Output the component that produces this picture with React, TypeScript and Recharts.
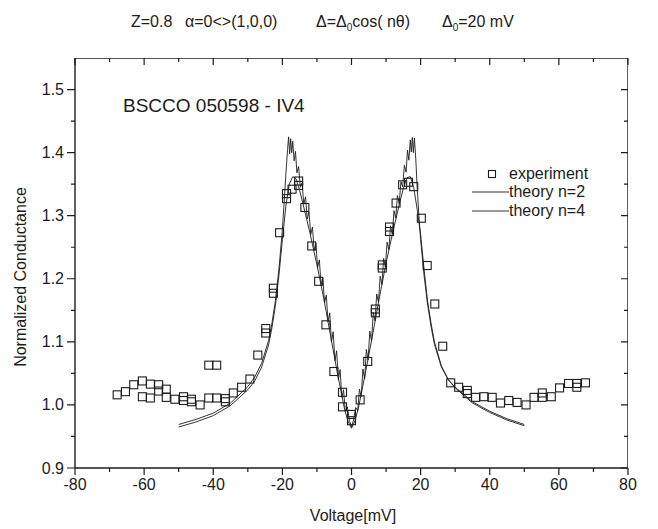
import { ScatterChart, Scatter, XAxis, YAxis } from "recharts";

// experiment (both sweeps)
const expVoltage = [
  -67.8, -65.4, -63.0, -60.5, -60.5, -58.2, -58.2, -55.8, -55.8, -53.6, -53.6, -51.1, -48.6, -48.6,
  -46.3, -46.3, -43.8, -41.3, -41.3, -39.0, -39.0, -36.5, -36.5, -34.2, -31.8, -29.4, -27.1, -24.8,
  -24.8, -22.6, -22.6, -20.8, -18.8, -18.8, -17.2, -15.3, -15.3, -13.5, -11.5, -9.5, -7.4, -5.1,
  -2.6, -2.6, 0.0, 0.0, 2.5, 4.7, 6.9, 6.9, 8.9, 8.9, 11.0, 11.0, 12.9, 14.8, 16.5, 18.0, 20.2,
  21.9, 24.1, 26.4, 28.7, 31.0, 33.5, 33.5, 35.9, 38.3, 40.7, 43.1, 45.5, 47.9, 50.5, 52.8, 55.2,
  55.2, 57.8, 60.2, 62.8, 65.2, 65.2, 67.7,
];
const expConductance = [
  1.016, 1.021, 1.032, 1.038, 1.013, 1.033, 1.011, 1.032, 1.022, 1.025, 1.012, 1.009, 1.013, 1.007,
  1.005, 1.009, 1.0, 1.011, 1.063, 1.011, 1.063, 1.005, 1.01, 1.019, 1.028, 1.041, 1.079, 1.114,
  1.121, 1.177, 1.185, 1.273, 1.327, 1.335, 1.342, 1.348, 1.355, 1.313, 1.252, 1.196, 1.127, 1.053,
  1.02, 0.997, 0.985, 0.975, 1.008, 1.069, 1.146, 1.152, 1.217, 1.222, 1.275, 1.282, 1.32, 1.349,
  1.353, 1.346, 1.296, 1.221, 1.16, 1.093, 1.035, 1.028, 1.023, 1.018, 1.012, 1.013, 1.012, 1.003,
  1.007, 1.004, 1.0, 1.012, 1.019, 1.012, 1.013, 1.027, 1.034, 1.034, 1.028, 1.035,
];

// theory n=2
const n2Voltage = [
  -50, -45, -40, -35, -30, -28, -26, -24, -23, -22, -21, -20, -19.5, -19, -18.5, -18.2, -17.9, -17.6,
  -17.3, -17, -16.6, -16.2, -15.8, -15.3, -14.8, -14.3, -13.8, -13.3, -12.8, -12.3, -11.8, -11.3,
  -10.8, -10.3, -9.8, -9.3, -8.8, -8.3, -7.8, -7.3, -6.8, -6.3, -5.8, -5.3, -4.8, -4.3, -3.8, -3.3,
  -2.8, -2.3, -1.8, -1.2, -0.6, 0, 0.6, 1.2, 1.8, 2.3, 2.8, 3.3, 3.8, 4.3, 4.8, 5.3, 5.8, 6.3, 6.8,
  7.3, 7.8, 8.3, 8.8, 9.3, 9.8, 10.3, 10.8, 11.3, 11.8, 12.3, 12.8, 13.3, 13.8, 14.3, 14.8, 15.3,
  15.8, 16.2, 16.6, 17, 17.3, 17.6, 17.9, 18.2, 18.6, 19, 19.5, 20, 21, 22, 23, 24, 26, 28, 30, 35,
  40, 45, 50,
];
const n2Conductance = [
  0.969, 0.977, 0.987, 1.003, 1.029, 1.044, 1.066, 1.102, 1.13, 1.166, 1.215, 1.278, 1.32, 1.365,
  1.405, 1.425, 1.398, 1.422, 1.4, 1.418, 1.387, 1.402, 1.368, 1.378, 1.345, 1.352, 1.318, 1.33,
  1.295, 1.306, 1.27, 1.282, 1.245, 1.256, 1.218, 1.23, 1.19, 1.202, 1.162, 1.174, 1.132, 1.146,
  1.1, 1.116, 1.07, 1.086, 1.04, 1.056, 1.012, 1.024, 0.99, 0.997, 0.975, 0.965, 0.976, 0.996, 0.991,
  1.025, 1.013, 1.057, 1.041, 1.088, 1.071, 1.117, 1.101, 1.147, 1.133, 1.176, 1.163, 1.204, 1.191,
  1.232, 1.219, 1.258, 1.246, 1.284, 1.271, 1.308, 1.296, 1.332, 1.319, 1.354, 1.346, 1.38, 1.369,
  1.404, 1.388, 1.42, 1.401, 1.424, 1.4, 1.423, 1.39, 1.345, 1.3, 1.262, 1.205, 1.16, 1.125, 1.096,
  1.06, 1.04, 1.028, 1.005, 0.99, 0.978, 0.969,
];

// theory n=4
const n4Voltage = [
  -50, -45, -40, -35, -30, -28, -26, -24, -23, -22, -21, -20, -19, -18, -17, -16, -15, -14, -12, -10,
  -8, -6, -4, -2, -1, 0, 1, 2, 4, 6, 8, 10, 12, 14, 15, 16, 17, 18, 19, 20, 21, 22, 23, 24, 26, 28,
  30, 35, 40, 45, 50,
];
const n4Conductance = [
  0.965, 0.973, 0.983, 0.999, 1.024, 1.038, 1.06, 1.095, 1.123, 1.158, 1.205, 1.262, 1.315, 1.35,
  1.362, 1.358, 1.34, 1.318, 1.272, 1.222, 1.168, 1.108, 1.048, 0.993, 0.974, 0.963, 0.975, 0.995,
  1.05, 1.108, 1.168, 1.225, 1.275, 1.322, 1.343, 1.36, 1.362, 1.345, 1.31, 1.27, 1.215, 1.165,
  1.13, 1.1, 1.062, 1.04, 1.027, 1.003, 0.988, 0.976, 0.967,
];

const xTicks = [-80, -70, -60, -50, -40, -30, -20, -10, 0, 10, 20, 30, 40, 50, 60, 70, 80];
const yTicks = [0.9, 0.95, 1.0, 1.05, 1.1, 1.15, 1.2, 1.25, 1.3, 1.35, 1.4, 1.45, 1.5];
const X_MIN = -80;
const X_MAX = 80;
const Y_MIN = 0.9;
const Y_MAX = 1.55;

// top-left -> top-right -> bottom-right corners of the axis box
const frameCorners = [
  { v: X_MIN, g: Y_MAX },
  { v: X_MAX, g: Y_MAX },
  { v: X_MAX, g: Y_MIN },
];

const W = 658;
const H = 529;
const MARGIN = { top: 58, right: 30, bottom: 0, left: 0 };
const Y_AXIS_W = 75;
const X_AXIS_H = 61;
const PLOT_W = 553;
const PLOT_H = 410;

const INK = "#1c1c1c";
const FONT = "'Liberation Sans', Arial, sans-serif";

const pairs = (vs: number[], gs: number[]) => vs.map((v, i) => ({ v, g: gs[i] }));
const experiment = pairs(expVoltage, expConductance);
const theoryN2 = pairs(n2Voltage, n2Conductance);
const theoryN4 = pairs(n4Voltage, n4Conductance);

const isMajorX = (v: number) => Math.round(v) % 20 === 0;
const isMajorY = (v: number) => Math.round(v * 100) % 10 === 0;

// bottom tick also draws the mirrored (inward) tick on the top frame
function BottomTick(props: any) {
  const x = Number(props.x);
  const y = Number(props.y);
  const value = props.payload.value;
  const major = isMajorX(value);
  const len = major ? 7 : 4;
  const top = y - PLOT_H;
  return (
    <g>
      <path d={`M${x},${y}V${y + len}M${x},${top}V${top + len}`} stroke={INK} strokeWidth={1.2} fill="none" />
      {major && (
        <text x={x} y={y + 22} textAnchor="middle" fontSize={16} fontFamily={FONT} fill={INK}>
          {value}
        </text>
      )}
    </g>
  );
}

// left tick also draws the mirrored (inward) tick on the right frame
function LeftTick(props: any) {
  const x = Number(props.x);
  const y = Number(props.y);
  const value = props.payload.value;
  const major = isMajorY(value);
  const right = x + PLOT_W;
  return (
    <g>
      <path
        d={`M${x},${y}H${x - (major ? 8 : 4)}M${right},${y}H${right - (major ? 7 : 4)}`}
        stroke={INK}
        strokeWidth={1.2}
        fill="none"
      />
      {major && (
        <text x={x - 11} y={y + 5.5} textAnchor="end" fontSize={16} fontFamily={FONT} fill={INK}>
          {value.toFixed(1)}
        </text>
      )}
    </g>
  );
}

const OpenSquare = (p: any) => (
  <rect x={p.cx - 4} y={p.cy - 4} width={8} height={8} fill="none" stroke={INK} strokeWidth={1.1} />
);
const NoMark = () => <g />;

export default function App() {
  const axisLine = { stroke: INK, strokeWidth: 1.4 };
  return (
    <div style={{ position: "absolute", left: 0, top: 0, width: W, height: H, background: "#fff" }}>
      <ScatterChart width={W} height={H} margin={MARGIN}>
        <XAxis
          type="number"
          dataKey="v"
          domain={[X_MIN, X_MAX]}
          ticks={xTicks}
          height={X_AXIS_H}
          axisLine={axisLine}
          tickLine={false}
          tickSize={0}
          tickMargin={0}
          tick={<BottomTick />}
          allowDataOverflow
        />
        <YAxis
          type="number"
          dataKey="g"
          domain={[Y_MIN, Y_MAX]}
          ticks={yTicks}
          width={Y_AXIS_W}
          axisLine={axisLine}
          tickLine={false}
          tickSize={0}
          tickMargin={0}
          tick={<LeftTick />}
          allowDataOverflow
        />
        {/* top and right sides of the axis box, through the chart's own scales */}
        <Scatter
          data={frameCorners}
          line={{ stroke: INK, strokeWidth: 1.4 }}
          lineType="joint"
          shape={NoMark}
          isAnimationActive={false}
        />
        <Scatter
          name="theory n=4"
          data={theoryN4}
          line={{ stroke: INK, strokeWidth: 0.9 }}
          lineType="joint"
          shape={NoMark}
          isAnimationActive={false}
        />
        <Scatter
          name="theory n=2"
          data={theoryN2}
          line={{ stroke: INK, strokeWidth: 0.9 }}
          lineType="joint"
          shape={NoMark}
          isAnimationActive={false}
        />
        <Scatter name="experiment" data={experiment} shape={OpenSquare} isAnimationActive={false} />
      </ScatterChart>

      <svg
        width={W}
        height={H}
        style={{ position: "absolute", left: 0, top: 0, pointerEvents: "none" }}
        fontFamily={FONT}
        fill={INK}
      >
        <text x={131} y={27} fontSize={16}>Z=0.8</text>
        <text x={185} y={27} fontSize={16}>α=0&lt;&gt;(1,0,0)</text>
        <text x={316} y={27} fontSize={16}>
          Δ=Δ<tspan fontSize={10} dy={4}>0</tspan>
          <tspan dy={-4}>cos( nθ)</tspan>
        </text>
        <text x={442} y={27} fontSize={16}>
          Δ<tspan fontSize={10} dy={4}>0</tspan>
          <tspan dy={-4}>=20 mV</tspan>
        </text>

        <text x={123} y={112} fontSize={19}>BSCCO 050598 - IV4</text>

        <rect x={488.5} y={170.5} width={7} height={7} fill="none" stroke={INK} strokeWidth={1.1} />
        <text x={509} y={179} fontSize={16}>experiment</text>
        <line x1={472} y1={192} x2={509} y2={192} stroke={INK} strokeWidth={0.9} />
        <text x={509} y={197} fontSize={16}>theory n=2</text>
        <line x1={472} y1={211} x2={509} y2={211} stroke={INK} strokeWidth={0.9} />
        <text x={509} y={216} fontSize={16}>theory n=4</text>

        <text x={353} y={521} fontSize={16} textAnchor="middle">Voltage[mV]</text>
        <text x={26} y={277} fontSize={16} textAnchor="middle" transform="rotate(-90 26 277)">
          Normalized Conductance
        </text>
      </svg>
    </div>
  );
}
